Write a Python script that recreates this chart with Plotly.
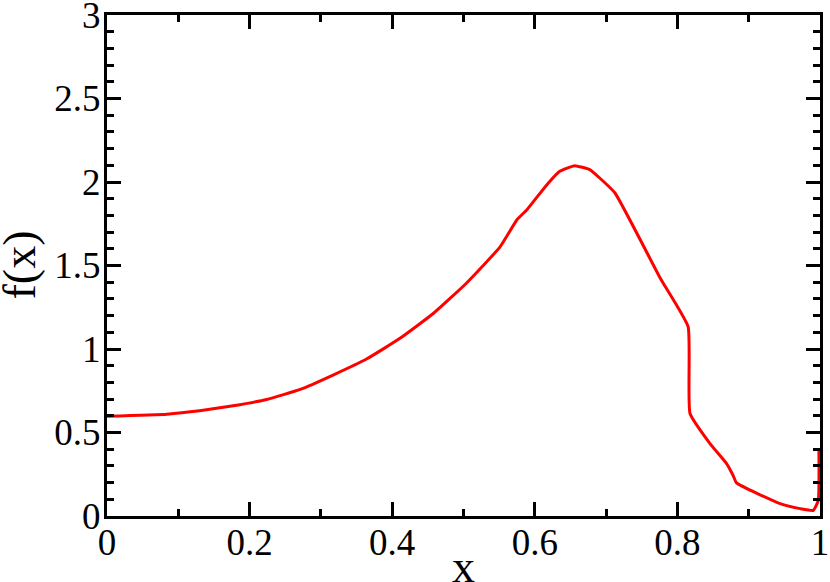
import plotly.graph_objects as go

# curve
x_vals = [0.0, 0.084, 0.130, 0.177, 0.224, 0.271, 0.317, 0.364, 0.411, 0.458,
          0.504, 0.551, 0.575, 0.589, 0.617, 0.635, 0.656, 0.677, 0.691, 0.7125,
          0.776, 0.815, 0.8177, 0.8457, 0.869, 0.878, 0.883, 0.944, 0.972, 0.9906,
          0.9976, 0.9985]
f_vals = [0.598, 0.61, 0.63, 0.66, 0.698, 0.758, 0.844, 0.94, 1.064, 1.214,
          1.394, 1.61, 1.774, 1.834, 1.984, 2.064, 2.098, 2.074, 2.024, 1.934,
          1.424, 1.134, 0.614, 0.434, 0.314, 0.244, 0.198, 0.074, 0.044, 0.034,
          0.094, 0.39]

x_ticks = [0, 0.2, 0.4, 0.6, 0.8, 1]
y_ticks = [0, 0.5, 1, 1.5, 2, 2.5, 3]

FONT = "Liberation Serif, Times New Roman, serif"

fig = go.Figure()
fig.add_trace(go.Scatter(x=x_vals, y=f_vals, mode="lines",
                         line=dict(color="#ff0000", width=3, shape="spline", smoothing=0.4),
                         showlegend=False))

axis_style = dict(showline=True, linecolor="black", linewidth=3, mirror="ticks",
                  ticks="inside", ticklen=14, tickwidth=3, tickcolor="black",
                  showgrid=False, zeroline=False, automargin=False,
                  ticklabeloverflow="allow", layer="above traces",
                  tickfont=dict(family=FONT, size=37, color="black"))

fig.update_xaxes(range=[0, 1], tickvals=x_ticks, ticktext=[str(v) for v in x_ticks],
                 ticklabelstandoff=-8,
                 minor=dict(dtick=0.1, ticks="inside", ticklen=7, tickwidth=3, tickcolor="black"),
                 **axis_style)
fig.update_yaxes(range=[0, 3], tickvals=y_ticks, ticktext=[str(v) for v in y_ticks],
                 ticklabelstandoff=-4,
                 minor=dict(dtick=0.1, ticks="inside", ticklen=7, tickwidth=3, tickcolor="black"),
                 **axis_style)

# axis titles as annotations: the layout titles are held inside the margins
title_font = dict(family=FONT, size=46, color="black")
fig.add_annotation(text="x", xref="paper", yref="paper", x=0.5, y=0,
                   xanchor="center", yanchor="top", yshift=-23,
                   showarrow=False, font=title_font)
fig.add_annotation(text="f(x)", xref="paper", yref="paper", x=0, y=0.5,
                   xanchor="center", yanchor="middle", xshift=-88, textangle=-90,
                   showarrow=False, font=title_font)

fig.update_layout(width=830, height=582, margin=dict(l=107, r=10, t=15, b=66),
                  plot_bgcolor="white", paper_bgcolor="white")

# drop the page's default body margin so the figure fills the window exactly
fig.write_html("out.html", config={"displayModeBar": False},
               post_script="document.body.style.margin = '0';")
